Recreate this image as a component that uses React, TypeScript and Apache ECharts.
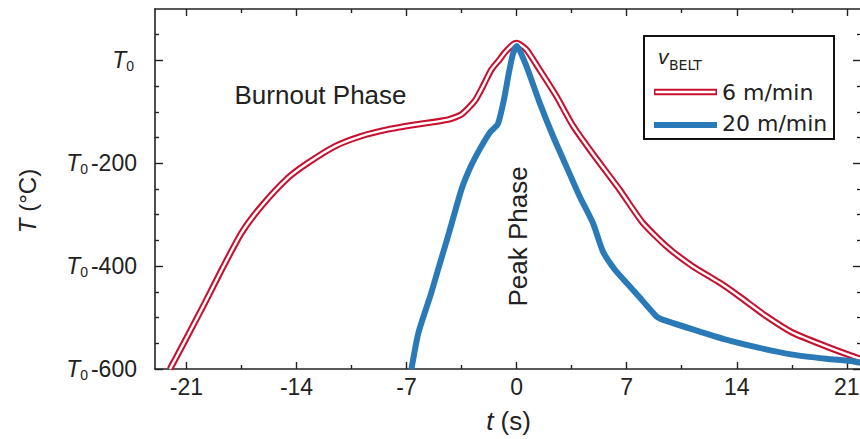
import React, { useEffect, useRef } from 'react';
import * as echarts from 'echarts';

const FONT = '"Liberation Sans", Arial, sans-serif';
const WIDE_FONT = '"DejaVu Sans", "Liberation Sans", sans-serif';
const INK = '#222';
const RED = '#c8102e';
const BLUE = '#2a7ab8';

// time axis ticks (s)
const timeMajor = [-21, -14, -7, 0, 7, 14, 21];
const timeMinor = [-17.5, -10.5, -3.5, 3.5, 10.5, 17.5];
// temperature axis ticks (relative to T0, °C)
const tempMajor = [-600, -400, -200, 0];
const tempMinor = [-550, -500, -450, -350, -300, -250, -150, -100, -50, 50];

// v_BELT = 6 m/min
const belt6Time = [-22.05, -21.73, -20.88, -19.82, -18.76, -17.49, -16.22, -14.53, -13.26, -11.56, -9.87, -8.18, -6.48, -4.36, -3.51, -2.67, -2.14, -1.61, -1.08, -0.76, -0.24, 0, 0.62, 1.46, 2.52, 3.56, 4.83, 6.54, 8.0, 9.51, 11.18, 12.9, 14.17, 15.86, 17.53, 19.68, 21.35, 21.86];
const belt6Temp = [-600, -582, -533, -471, -407, -335, -283, -228, -199, -167, -147, -134, -125, -115, -105, -79, -50, -18, 2, 15, 31, 34, 21, -18, -69, -126, -181, -251, -315, -361, -400, -432, -459, -497, -529, -556, -575, -580];

// v_BELT = 20 m/min
const belt20Time = [-6.69, -6.25, -5.46, -5.0, -4.3, -3.5, -2.9, -2.3, -1.7, -1.2, -0.8, -0.5, -0.24, 0, 0.62, 1.46, 2.31, 3.16, 4.0, 4.85, 5.48, 6.2, 6.97, 7.8, 8.87, 9.2, 11.2, 13.32, 15.44, 17.55, 19.68, 21.37, 21.86];
const belt20Temp = [-600, -530, -455, -407, -335, -250, -205, -170, -140, -124, -75, -25, 12, 28, -11, -82, -147, -206, -264, -316, -371, -405, -432, -460, -497, -503, -523, -543, -559, -572, -580, -585, -588];

const legendTitle = 'v';
const legendSub = 'BELT';
const legendSpeeds = ['6 m/min', '20 m/min'];
const phaseLabels = ['Burnout Phase', 'Peak Phase'];

const zip = (xs: number[], ys: number[]) => xs.map((x, i) => [x, ys[i]]);

function xAxisDef(position: 'top' | 'bottom', ticks: number[], len: number, line: boolean, label: boolean) {
  return {
    type: 'value',
    position,
    min: -23,
    max: 21.9,
    axisLine: { show: line, onZero: false, lineStyle: { color: INK, width: 1.6 } },
    axisTick: { show: true, inside: true, length: len, customValues: ticks, lineStyle: { color: INK, width: 1.4 } },
    axisLabel: label
      ? { show: true, customValues: ticks, fontSize: 23, fontFamily: FONT, color: INK, margin: 6 }
      : { show: false },
    splitLine: { show: false },
  };
}

function yAxisDef(position: 'left' | 'right', ticks: number[], len: number, line: boolean, label: boolean) {
  return {
    type: 'value',
    position,
    min: -600,
    max: 100,
    axisLine: { show: line, onZero: false, lineStyle: { color: INK, width: 1.6 } },
    axisTick: { show: true, inside: true, length: len, customValues: ticks, lineStyle: { color: INK, width: 1.4 } },
    axisLabel: label
      ? {
          show: true,
          customValues: ticks,
          margin: 18,
          color: INK,
          fontFamily: FONT,
          fontSize: 23,
          formatter: (v: number) => (v === 0 ? '{i|T}{s|0}' : '{i|T}{s|0}{n|' + String(v) + '}'),
          rich: {
            i: { fontStyle: 'italic', fontSize: 23, fontFamily: FONT, color: INK, lineHeight: 26, verticalAlign: 'middle' },
            s: { fontSize: 14, fontFamily: FONT, color: INK, lineHeight: 12, verticalAlign: 'bottom', padding: [0, 3, 0, 0] },
            n: { fontSize: 23, fontFamily: FONT, color: INK, lineHeight: 26, verticalAlign: 'middle' },
          },
        }
      : { show: false },
    splitLine: { show: false },
  };
}

export default function App() {
  const ref = useRef<HTMLDivElement>(null);

  useEffect(() => {
    if (!ref.current) return;
    document.body.style.margin = '0';
    document.body.style.overflow = 'hidden';
    const chart = echarts.init(ref.current, undefined, { renderer: 'svg' });
    const belt6 = zip(belt6Time, belt6Temp);
    const belt20 = zip(belt20Time, belt20Temp);

    chart.setOption({
      animation: false,
      backgroundColor: '#fff',
      grid: { left: 155, top: 9, right: 9, bottom: 70, containLabel: false },
      xAxis: [
        xAxisDef('bottom', timeMajor, 7, true, true),
        xAxisDef('bottom', timeMinor, 4, false, false),
        xAxisDef('top', timeMajor, 7, true, false),
        xAxisDef('top', timeMinor, 4, false, false),
      ],
      yAxis: [
        yAxisDef('left', tempMajor, 8, true, true),
        yAxisDef('left', tempMinor, 4, false, false),
        yAxisDef('right', tempMajor, 8, true, false),
        yAxisDef('right', tempMinor, 4, false, false),
      ],
      series: [
        {
          name: legendSpeeds[0],
          type: 'line',
          data: belt6,
          showSymbol: false,
          smooth: 0.2,
          lineStyle: { color: RED, width: 6.5 },
          z: 2,
        },
        {
          name: legendSpeeds[0] + ' core',
          type: 'line',
          data: belt6,
          showSymbol: false,
          smooth: 0.2,
          lineStyle: { color: '#fff', width: 2.4 },
          z: 3,
        },
        {
          name: legendSpeeds[1],
          type: 'line',
          data: belt20,
          showSymbol: false,
          smooth: 0.2,
          lineStyle: { color: BLUE, width: 6 },
          z: 4,
        },
      ],
      graphic: [
        {
          type: 'text',
          x: 320.5,
          y: 95,
          style: { text: phaseLabels[0], fontSize: 26, fontFamily: FONT, fill: INK, align: 'center', verticalAlign: 'middle' },
        },
        {
          type: 'text',
          x: 517.5,
          y: 236.5,
          rotation: Math.PI / 2,
          style: { text: phaseLabels[1], fontSize: 26, fontFamily: FONT, fill: INK, align: 'center', verticalAlign: 'middle' },
        },
        {
          type: 'text',
          x: 27,
          y: 201,
          rotation: Math.PI / 2,
          style: {
            text: '{i|T} (°C)',
            rich: { i: { fontStyle: 'italic', fontSize: 24, fontFamily: FONT, fill: INK } },
            fontSize: 24,
            fontFamily: FONT,
            fill: INK,
            align: 'center',
            verticalAlign: 'middle',
          },
        },
        {
          type: 'text',
          x: 508.5,
          y: 421,
          style: {
            text: '{i|t} (s)',
            rich: { i: { fontStyle: 'italic', fontSize: 26, fontFamily: FONT, fill: INK } },
            fontSize: 26,
            fontFamily: FONT,
            fill: INK,
            align: 'center',
            verticalAlign: 'middle',
          },
        },
        {
          type: 'rect',
          shape: { x: 644, y: 36, width: 190, height: 103 },
          style: { fill: '#fff', stroke: '#111', lineWidth: 2 },
          z: 10,
        },
        {
          type: 'text',
          x: 658,
          y: 56.5,
          z: 11,
          style: { text: legendTitle, fontSize: 21, fontStyle: 'italic', fontFamily: FONT, fill: INK, align: 'left', verticalAlign: 'middle' },
        },
        {
          type: 'text',
          x: 669,
          y: 65,
          z: 11,
          style: { text: legendSub, fontSize: 14, fontFamily: WIDE_FONT, fill: INK, align: 'left', verticalAlign: 'middle' },
        },
        {
          type: 'line',
          shape: { x1: 654, y1: 92, x2: 717, y2: 92 },
          style: { stroke: RED, lineWidth: 6.5 },
          z: 11,
        },
        {
          type: 'line',
          shape: { x1: 655.5, y1: 92, x2: 715.5, y2: 92 },
          style: { stroke: '#fff', lineWidth: 2.4 },
          z: 12,
        },
        {
          type: 'line',
          shape: { x1: 654, y1: 125, x2: 717, y2: 125 },
          style: { stroke: BLUE, lineWidth: 6 },
          z: 11,
        },
        {
          type: 'text',
          x: 722,
          y: 92.5,
          z: 11,
          style: { text: legendSpeeds[0], fontSize: 22, fontFamily: WIDE_FONT, fill: INK, align: 'left', verticalAlign: 'middle' },
        },
        {
          type: 'text',
          x: 722,
          y: 123,
          z: 11,
          style: { text: legendSpeeds[1], fontSize: 22, fontFamily: WIDE_FONT, fill: INK, align: 'left', verticalAlign: 'middle' },
        },
      ],
    });

    return () => {
      chart.dispose();
    };
  }, []);

  return (
    <div
      ref={ref}
      style={{ position: 'fixed', left: 0, top: 0, width: 870, height: 439, background: '#fff' }}
    />
  );
}
